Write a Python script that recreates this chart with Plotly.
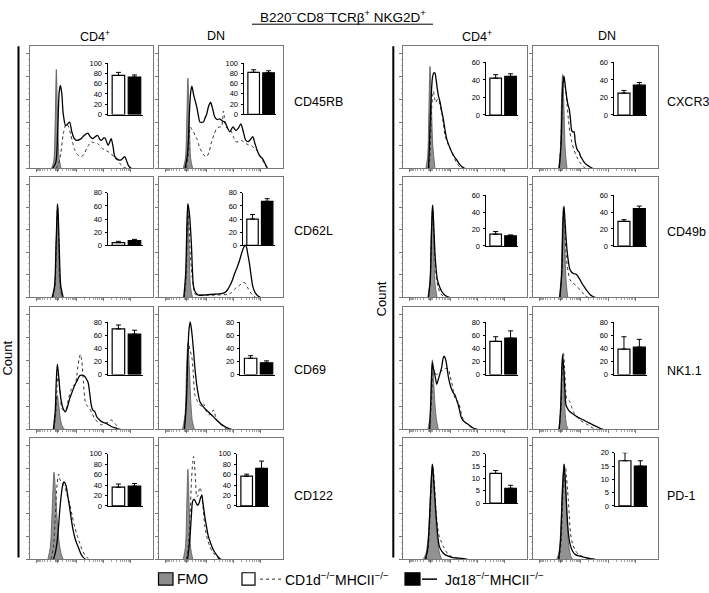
import math
import plotly.graph_objects as go

W, H = 709, 593

# ---------------- text ----------------
TITLE = "B220<sup>–</sup>CD8<sup>–</sup>TCRβ<sup>+</sup> NKG2D<sup>+</sup>"
POPULATIONS = ["CD4<sup>+</sup>", "DN"]
MARKERS_LEFT = ["CD45RB", "CD62L", "CD69", "CD122"]
MARKERS_RIGHT = ["CXCR3", "CD49b", "NK1.1", "PD-1"]
AXIS_TITLE = "Count"
LEGEND_LABELS = ["FMO", "CD1d<sup>−/−</sup>MHCII<sup>−/−</sup>", "Jα18<sup>−/−</sup>MHCII<sup>−/−</sup>"]

# ---------------- inset bar data (% positive), order: CD45RB CD4/DN, CD62L ..., PD-1 DN -------------
CD1D_PCT = [76, 82, 4, 40, 70, 25, 36, 57, 42, 25, 14, 29, 51, 39, 12, 17]
CD1D_ERR = [6, 5, 2, 7, 6, 4, 6, 4, 4, 3, 3, 2, 7, 19, 1.2, 3]
JA18_PCT = [73, 81, 7, 67, 62, 18, 38, 72, 44, 34, 12, 44, 56, 42, 6, 15]
JA18_ERR = [4, 4, 2, 4, 6, 3, 5, 14, 3, 3, 1, 3, 11, 12, 1.2, 2]
TICKS_100 = [0, 20, 40, 60, 80, 100]
TICKS_80 = [0, 20, 40, 60, 80]
TICKS_60 = [0, 20, 40, 60]
TICKS_20 = [0, 5, 10, 15, 20]
INSET_TICKS = [TICKS_100, TICKS_100, TICKS_80, TICKS_80, TICKS_80, TICKS_80, TICKS_100, TICKS_100,
               TICKS_60, TICKS_60, TICKS_60, TICKS_60, TICKS_80, TICKS_80, TICKS_20, TICKS_20]

# ---------------- histogram curves (x: fluorescence scale 0-100, y: count scale 0-100) ----------------
CD45RB_CD4_FMO = [(17.5,0),(19.3,6),(20.4,35),(21.4,81),(22.5,38),(23.7,8),(25.2,0)]
CD45RB_CD4_CD1D = [(21,0),(23,3),(25,12),(27,28),(29.5,36.5),(31.5,34),(33,28),(35,20),(36,16.4),(38,12),(41.7,9.7),(44,12),(47,18),(50,21.8),(52,21),(55,20.4),(58,17),(61,15),(63.5,13.7),(66,12),(69,8.3),(71,7),(72.5,5),(74,3),(76,1),(80,0)]
CD45RB_CD4_JA18 = [(18.5,0),(21,5),(22.5,30),(23.7,62),(24.7,68),(25.8,62),(27,45),(29,35),(31,37),(32.2,38),(34,30),(36,24.5),(38,23),(41,24),(44,27),(47,29),(49,26),(51,24.5),(53,26),(55,27),(57,23.5),(58,23),(60,25),(61,25),(63.5,19),(65,22),(66,24.5),(67.5,18),(69,9.7),(72,7),(74,7),(76,9),(77,9.7),(79,5),(80,2.4),(82.4,0)]

CD45RB_DN_FMO = [(19.5,0),(21.3,8),(22.4,40),(23.3,74),(24.4,38),(25.7,7),(27.2,0)]
CD45RB_DN_CD1D = [(22,0),(23.5,10),(24.5,28),(25.2,34),(26.5,32),(27.9,30),(29,27),(30.5,24.5),(32.5,18),(34.5,13.7),(36.5,10.5),(38.5,9.7),(40.5,14),(42.4,21.8),(44.5,28),(46.4,32.5),(48.5,34),(50.4,34),(51.3,40),(52,47),(52.8,42),(54,34),(56,32),(58,31),(60,26),(62,21.8),(64,22),(66.3,23),(68,22),(70,20.4),(72,19.5),(74,19),(76.5,17),(79.6,13.7),(81.5,10),(83.5,7),(85.5,3),(87.5,0)]
CD45RB_DN_JA18 = [(21,0),(23,12),(24.5,45),(25.5,62),(26.5,67.5),(28,60),(30.5,50),(32,42),(33,38),(35.8,38),(37,41),(38.5,44.6),(40,51),(41.6,54),(43,50),(45,42),(47,40),(49,40.6),(51,39),(53,38),(55,34),(57,30),(59.7,34),(62,31),(64,33),(66,36.5),(68,30),(70,23),(72,22),(74,24),(75.6,26),(77.5,20),(79.6,13.7),(81.5,10),(83.5,8),(85.5,4),(87.5,0)]

CD62L_CD4_FMO = [(18.5,0),(20.1,8),(21.2,40),(22.2,77),(23.2,40),(24.4,8),(26,0)]
CD62L_CD4_CD1D = [(18.5,0),(20.3,9),(21.4,45),(22.4,77),(23.5,45),(24.8,9),(26.5,0)]
CD62L_CD4_JA18 = [(18,0),(20,10),(21.2,45),(22.5,78),(23.7,45),(25,10),(27,0)]

CD62L_DN_FMO = [(20,0),(21.5,9),(22.4,40),(23.3,77),(24.3,40),(25.4,9),(27,0)]
CD62L_DN_CD1D = [(20.5,0),(22,20),(22.7,55),(23.3,74),(24.2,60),(25.3,35),(26.5,20),(27.8,8),(29,2.7),(35,2),(45,2),(55.7,2.7),(58.5,4),(61,7),(63.5,9),(66,11),(68,12.5),(69.5,12),(71.6,8),(73.5,4.5),(75.6,2),(78,0)]
CD62L_DN_JA18 = [(20,0),(21.5,20),(22.5,60),(23.3,78),(24.5,70),(26,47),(27,22),(27.8,9.5),(29.5,4),(31.8,2),(38,2.2),(45,2.7),(50,3.2),(53,4),(55,6),(57,9.5),(59,14),(61,20),(63,25),(65,31),(67,38),(68.4,42),(69.5,43.5),(70.5,42),(71.8,35),(73,28),(74.3,18),(75.6,9.5),(77.5,4),(79.6,1.4),(82,0)]

CD69_CD4_FMO = [(19,0),(20.5,8),(21.3,20),(22.2,28),(23.2,22),(24.5,10),(26,3),(28.2,0)]
CD69_CD4_CD1D = [(19.5,0),(21,15),(22,35),(22.8,45.4),(23.8,38),(24.8,26),(26,17),(27.8,15.5),(29.5,17),(31.5,26),(33.6,33),(35.3,36),(36.9,37),(38,44),(39,52),(40,58),(41,61.5),(42,57),(42.5,52),(43.5,38),(45,22.6),(46.8,19),(48.5,17),(50.5,13),(52.6,9),(55,6),(58,3.8),(60.5,4.5),(63.4,6),(65,7.5),(66,7.8),(68,6),(70,3.8),(72,1),(74,0)]
CD69_CD4_JA18 = [(19,0),(20.5,15),(21.3,38),(22.2,53.5),(23.2,45),(24.3,32),(25.5,22.6),(27,17),(28.7,14.5),(30.3,18),(32.2,25),(34,30),(36.3,36),(38.3,40),(40.4,44),(42.5,44.5),(44.4,43.5),(46,41),(47.2,38.7),(48.5,30),(49.8,20),(51,16),(52.6,14.5),(54.5,10),(56.6,7.8),(59,6),(62,5),(64.8,3.2),(67,2),(70,1),(72,0)]

CD69_DN_FMO = [(19,0),(21,12),(22.2,50),(23.3,71),(24.4,52),(25.8,20),(27,6),(28.6,0)]
CD69_DN_CD1D = [(20.5,0),(22,25),(23,60),(23.9,71),(25,65),(26.5,59),(27.5,48),(29,28),(31,23),(33,20),(35,19),(36,21),(37,18.5),(38.5,14),(41,12),(42.5,13),(43.8,16),(44.8,14),(45.6,10.5),(47.2,7),(49,5),(52,2),(55,0)]
CD69_DN_JA18 = [(20.5,0),(22,20),(23.2,60),(24.2,82),(25.2,88),(26.4,80),(27.8,65),(29,50),(30.5,36),(31.8,28),(33,22.6),(35.8,18.5),(37.5,16.5),(39.8,14.5),(41.8,12.5),(43.8,10.5),(45.7,8.5),(47.7,6.5),(50,4.5),(53,2.4),(56,0.8),(58.5,0)]

CD122_CD4_FMO = [(14.5,0),(16.5,10),(18,40),(19.5,72),(20.8,55),(22.3,30),(24,12),(25.5,4),(27,0)]
CD122_CD4_CD1D = [(17,0),(19,10),(20.5,35),(22,62),(23.3,70.5),(24.3,66),(25.5,64),(26.8,62),(28.2,60),(30.2,53),(32.2,46),(34.3,36),(36.3,27),(38.3,20),(40.4,13.5),(42.4,8),(44.4,4),(46.5,1.5),(48.5,0)]
CD122_CD4_JA18 = [(19,0),(20.5,5),(21.7,12),(22.8,21.7),(24,38),(25.5,54),(26.5,61),(27.6,64),(28.5,63),(29.5,60),(30.8,52),(32.2,43),(33.6,33),(35,24.4),(37,16),(39,10.8),(40.4,7),(41.7,4),(43.5,1.5),(45.5,0)]

CD122_DN_FMO = [(19.5,0),(21.3,10),(22.4,45),(23.3,74.5),(24.3,45),(25.5,10),(27.2,0)]
CD122_DN_CD1D = [(22,0),(23.5,10),(25,35),(26.2,65),(27.2,80),(27.9,85),(28.7,78),(29.6,62),(30.5,51.5),(31.5,53),(32.5,58),(33.2,59.6),(33.9,57),(34.5,54),(35.5,43),(37,27),(39,17),(41,10.8),(43,6.5),(45,4),(47,1.5),(49,0)]
CD122_DN_JA18 = [(23,0),(24.2,10),(25.2,21.7),(26.1,36),(27,47.4),(28,49.5),(29,48.8),(30.2,46),(31.3,44.7),(32.5,47),(33.5,51),(34.5,52.8),(35.5,46),(37,35),(38.5,26),(39.8,19),(41.8,13),(43.8,8),(45.8,4.5),(47.7,2),(50,0)]

CXCR3_CD4_FMO = [(18.5,0),(19.9,10),(20.9,50),(21.8,83.6),(22.8,55),(24.1,18),(25.8,0)]
CXCR3_CD4_CD1D = [(21,0),(22,15),(23.1,48.6),(24,60),(24.5,63.4),(25.4,58),(26.3,54),(27.4,56),(28.5,56.7),(29.8,52),(31.2,46),(32.5,37),(33.9,27),(35.9,21),(37.9,16.4),(40,11.5),(42,7),(44,3.5),(46,1),(48,0)]
CXCR3_CD4_JA18 = [(20.5,0),(21.2,15),(21.8,35),(22.8,60),(23.9,75.5),(25,78.5),(25.8,78),(26.8,72),(27.7,65),(28.7,59),(29.8,55),(31.2,47),(32.5,40.6),(33.8,32),(35.2,24.5),(37.2,18.5),(39.2,13.7),(41.2,10),(43.3,7),(45.3,4),(47.3,1.6),(50,0)]

CXCR3_DN_FMO = [(20.5,0),(21.9,15),(22.8,55),(23.7,77),(24.7,52),(25.8,15),(27.2,0)]
CXCR3_DN_CD1D = [(21,0),(22.5,25),(23.5,65),(24.3,75.5),(25.3,70),(26.4,62),(27.3,52),(28.3,40.6),(29.5,30),(31,21.8),(33,14.5),(35,9.7),(37.5,5),(40.3,1.6),(42,0)]
CXCR3_DN_JA18 = [(21,0),(22.5,20),(23.7,65),(24.8,75.5),(25.8,68),(27,58),(28,52),(29,48.6),(30,40),(31,31),(31.9,30),(32.8,30),(33.8,22),(35,16.4),(35.9,14.5),(36.8,13.7),(38,10),(39,8.3),(41,5),(43,3),(46,1),(48,0)]

CD49B_CD4_FMO = [(20,0),(21.6,12),(22.7,50),(23.7,76),(24.7,50),(25.8,12),(27.4,0)]
CD49B_CD4_CD1D = [(20.5,0),(22,15),(23,55),(23.9,76),(24.8,55),(25.8,31),(27,16),(28.5,8),(30.5,3),(32.5,1),(35,0)]
CD49B_CD4_JA18 = [(20.5,0),(22,15),(23,55),(23.9,77),(24.8,60),(25.8,36.6),(26.7,24),(27.7,14.8),(29.5,9),(31.2,5.2),(33.2,2.5),(35.2,1),(37.5,0)]

CD49B_DN_FMO = [(21,0),(22.4,15),(23.4,55),(24.3,75),(25.3,50),(26.4,15),(27.8,0)]
CD49B_DN_CD1D = [(21.5,0),(23,20),(24,62),(24.5,75),(25.4,60),(26.4,36.6),(28,22),(29.6,14.8),(31.6,12),(33.6,10.7),(35.6,8.5),(37.6,6.6),(39.6,4),(41.6,1.6),(44,0)]
CD49B_DN_JA18 = [(21.5,0),(23,20),(24,62),(24.8,76),(25.8,60),(27,42),(28.3,30),(29.6,23),(31,21),(32.3,20),(35,19),(36.3,17),(37.6,14.8),(39.6,11),(41.6,8),(43.6,5),(45.6,2.5),(48,0.8),(50,0)]

NK11_CD4_FMO = [(20,0),(21.8,10),(22.8,40),(23.7,57),(24.6,42),(25.8,20),(27,8),(28.5,0)]
NK11_CD4_CD1D = [(21.5,0),(22.8,20),(23.8,40),(24.5,47),(25.8,46),(27.2,45),(28.5,46),(29.8,47),(31.2,48),(32.5,49.5),(34.5,50),(36.6,49.5),(37.9,44),(39.2,38.7),(40.6,32),(42,25),(43.3,23.5),(44.6,22.6),(46.6,15),(48.7,7.8),(51.3,4.5),(54,2.4),(57,0.8),(60,0)]
NK11_CD4_JA18 = [(21.5,0),(22.5,25),(23.2,48),(23.7,55),(24.5,50),(25.3,47),(26.2,42),(27.2,37),(28.2,40),(29.3,44),(30.2,47),(31.2,51),(32.1,57),(33,60),(33.8,59),(34.7,56),(35.6,50),(36.6,43),(37.9,37),(39.2,33),(40.6,30),(42,28),(43.3,24),(44.6,20),(46,14),(47.3,9),(49.3,6.5),(51.3,5),(53.4,3.5),(55.4,2),(58,0.5),(60,0)]

NK11_DN_FMO = [(20.5,0),(22,12),(22.9,45),(23.7,62),(24.6,45),(25.6,15),(27,3),(28.3,0)]
NK11_DN_CD1D = [(21,0),(22.5,20),(23.5,52),(24.3,63),(25.2,52),(26.2,32),(27,25),(28.3,24),(29.6,22.6),(31,18),(32.3,14.5),(35,11),(37.6,7.8),(40.3,5.8),(43,4.3),(45.6,2.5),(48.3,1),(52,0)]
NK11_DN_JA18 = [(21,0),(22.2,20),(23,48),(23.7,60),(24.6,50),(25.5,33),(26.4,20),(28,16.5),(29.6,14.5),(32.3,12.5),(35,10.5),(37.6,9),(40.3,7.8),(43,6.3),(45.6,5),(48.2,3.6),(50.9,2.4),(53.5,1),(56,0)]

PD1_CD4_FMO = [(16.4,0),(18.5,5),(20.5,20),(22,50),(23.7,78.6),(25,60),(26.5,32),(28,14),(29.5,5),(31.2,0)]
PD1_CD4_CD1D = [(18.5,0),(20.2,8),(21.6,30),(23,62),(24.2,77),(25.4,62),(26.6,40),(28,26),(29.3,19),(30.8,15),(32.5,10.8),(34.5,7),(36.6,4),(39,2.5),(43,1.5),(48,0.8),(52,0)]
PD1_CD4_JA18 = [(18,0),(19.8,8),(21.2,30),(22.5,60),(23.7,78.6),(25,62),(26.6,38),(28,20),(29.3,10.8),(31.5,6.5),(33.9,4),(37,2.5),(40,1.5),(45,1),(50,0.5),(52,0)]

PD1_DN_FMO = [(19,0),(20.8,6),(22.2,25),(23.5,60),(24.8,78.6),(26,60),(27.3,30),(28.8,10),(30.5,2),(32,0)]
PD1_DN_CD1D = [(21,0),(22.5,15),(24,55),(25.3,76),(25.9,77),(26.8,68),(27.6,58),(28.3,48.8),(29.1,35),(30,21.7),(31.6,13),(33.6,8),(36,4.5),(38.6,3),(42,1.5),(47,0.5),(50,0)]
PD1_DN_JA18 = [(20.5,0),(22,15),(23.5,55),(24.9,78.6),(26.2,58),(27.2,38),(28.3,21.7),(29.8,12),(31.7,6.8),(34,4),(37.6,2.7),(42,1.5),(47,0.5),(50,0)]

HISTOGRAMS = [
    (CD45RB_CD4_FMO, CD45RB_CD4_CD1D, CD45RB_CD4_JA18), (CD45RB_DN_FMO, CD45RB_DN_CD1D, CD45RB_DN_JA18),
    (CD62L_CD4_FMO, CD62L_CD4_CD1D, CD62L_CD4_JA18), (CD62L_DN_FMO, CD62L_DN_CD1D, CD62L_DN_JA18),
    (CD69_CD4_FMO, CD69_CD4_CD1D, CD69_CD4_JA18), (CD69_DN_FMO, CD69_DN_CD1D, CD69_DN_JA18),
    (CD122_CD4_FMO, CD122_CD4_CD1D, CD122_CD4_JA18), (CD122_DN_FMO, CD122_DN_CD1D, CD122_DN_JA18),
    (CXCR3_CD4_FMO, CXCR3_CD4_CD1D, CXCR3_CD4_JA18), (CXCR3_DN_FMO, CXCR3_DN_CD1D, CXCR3_DN_JA18),
    (CD49B_CD4_FMO, CD49B_CD4_CD1D, CD49B_CD4_JA18), (CD49B_DN_FMO, CD49B_DN_CD1D, CD49B_DN_JA18),
    (NK11_CD4_FMO, NK11_CD4_CD1D, NK11_CD4_JA18), (NK11_DN_FMO, NK11_DN_CD1D, NK11_DN_JA18),
    (PD1_CD4_FMO, PD1_CD4_CD1D, PD1_CD4_JA18), (PD1_DN_FMO, PD1_DN_CD1D, PD1_DN_JA18),
]

# ---------------- layout geometry (pixels) ----------------
COLS = [(30, 153), (159, 283), (403, 527), (533, 658)]
ROWS = [(43, 167), (176, 298), (308, 432), (441, 564)]
INSET_BOXES = [
    (108, 142.5, 60, 112.3), (244, 276, 60, 112),
    (108, 142.5, 191.7, 245), (243, 274.5, 191.7, 245),
    (108, 142.5, 323.3, 376.3), (240.3, 274.5, 323.3, 376.3),
    (108, 142.5, 456.7, 509.7), (237, 269, 456.7, 509.7),
    (486, 518, 59.3, 112.7), (614, 647, 59.3, 112.7),
    (486, 518, 194, 245.7), (614, 647, 194, 245.7),
    (486, 518, 323.3, 376.3), (614, 647, 323.3, 376.3),
    (486, 518, 456.7, 506.7), (615, 648, 455.7, 509.7),
]
ROW_LABEL_Y_LEFT = [100, 231, 372, 500]
ROW_LABEL_Y_RIGHT = [100, 232, 373, 500]

def fx(px):
    return px / W

def fy(py):
    return 1 - py / H

# tick styling of the flow axes
Y_MAJOR = [0, 18.8, 37.6, 56.4, 75.2, 94]
Y_MINOR = [v + d for v in Y_MAJOR[:-1] for d in (4.7, 9.4, 14.1)]
X_MAJOR = [5, 22, 38, 60, 82]
X_MINOR = ([22 - 17 * math.log10(k) for k in range(2, 10)] +
           [20.6, 21.1, 21.6, 22.4, 22.9, 23.4] +
           [22 + 16 * math.log10(k) for k in range(2, 10)] +
           [38 + 22 * math.log10(k) for k in range(2, 10)] +
           [60 + 22 * math.log10(k) for k in range(2, 10)])

FONT = "Liberation Sans, Arial, Helvetica, sans-serif"

fig = go.Figure()
layout = dict(width=W, height=H, margin=dict(l=0, r=0, t=0, b=0),
              paper_bgcolor="white", plot_bgcolor="rgba(0,0,0,0)", showlegend=False,
              font=dict(family=FONT, color="black"))

def ax_names(n):
    s = "" if n == 1 else str(n)
    return "xaxis" + s, "yaxis" + s, "x" + s, "y" + s

for k in range(16):
    col = (k % 2) + (2 if k >= 8 else 0)
    row = (k // 2) % 4
    x0, x1 = COLS[col]
    y0, y1 = ROWS[row]
    xa, ya, xr, yr = ax_names(k + 1)
    layout[xa] = dict(domain=[fx(x0), fx(x1)], range=[0, 100], anchor=yr, showgrid=False, zeroline=False,
                      showline=True, mirror=True, linecolor="#777", linewidth=1,
                      ticks="outside", tickvals=X_MAJOR, ticklen=3, tickwidth=0.8, tickcolor="#555",
                      showticklabels=False,
                      minor=dict(tickvals=X_MINOR, ticks="outside", ticklen=1.6, tickwidth=0.6, tickcolor="#666"))
    layout[ya] = dict(domain=[fy(y1), fy(y0)], range=[0, 100], anchor=xr, showgrid=False, zeroline=False,
                      showline=True, mirror=True, linecolor="#777", linewidth=1,
                      ticks="outside", tickvals=Y_MAJOR, ticklen=3, tickwidth=0.8, tickcolor="#555",
                      showticklabels=False,
                      minor=dict(tickvals=Y_MINOR, ticks="outside", ticklen=1.5, tickwidth=0.6, tickcolor="#888"))
    fmo, cd1d, ja18 = HISTOGRAMS[k]
    fig.add_trace(go.Scatter(x=[p[0] for p in fmo], y=[p[1] for p in fmo], mode="lines",
                             line=dict(color="#555", width=0.8, shape="spline", smoothing=0.8),
                             fill="tozeroy", fillcolor="#929292", xaxis=xr, yaxis=yr, hoverinfo="skip"))
    fig.add_trace(go.Scatter(x=[p[0] for p in cd1d], y=[p[1] for p in cd1d], mode="lines",
                             line=dict(color="#333", width=1, dash="dot", shape="spline", smoothing=0.8),
                             xaxis=xr, yaxis=yr, hoverinfo="skip"))
    fig.add_trace(go.Scatter(x=[p[0] for p in ja18], y=[p[1] for p in ja18], mode="lines",
                             line=dict(color="black", width=1.3, shape="spline", smoothing=0.8),
                             xaxis=xr, yaxis=yr, hoverinfo="skip"))

    # inset bar chart
    ix0, ix1, iy0, iy1 = INSET_BOXES[k]
    xa2, ya2, xr2, yr2 = ax_names(k + 17)
    ticks = INSET_TICKS[k]
    layout[xa2] = dict(domain=[fx(ix0), fx(ix1)], range=[-0.65, 1.5], anchor=yr2, showgrid=False,
                       zeroline=False, showline=True, linecolor="black", linewidth=1,
                       showticklabels=False, ticks="")
    layout[ya2] = dict(domain=[fy(iy1), fy(iy0)], range=[0, ticks[-1]], anchor=xr2, showgrid=False,
                       zeroline=False, showline=True, linecolor="black", linewidth=1,
                       ticks="outside", tickvals=ticks, ticklen=2.5, tickwidth=1, tickcolor="black",
                       tickfont=dict(size=7.5, family=FONT, color="black"), ticklabelstandoff=1)
    fig.add_trace(go.Bar(x=[0, 1], y=[CD1D_PCT[k], JA18_PCT[k]], width=0.78,
                         marker=dict(color=["white", "black"], line=dict(color="black", width=1.2)),
                         error_y=dict(type="data", symmetric=False, array=[CD1D_ERR[k], JA18_ERR[k]],
                                      arrayminus=[0, 0], color="black", thickness=1, width=2.5),
                         xaxis=xr2, yaxis=yr2, hoverinfo="skip"))

annotations = []
shapes = []

def text(x, y, s, size, xanchor="center", angle=0):
    annotations.append(dict(x=fx(x), y=fy(y), xref="paper", yref="paper", text=s, showarrow=False,
                            xanchor=xanchor, yanchor="middle", textangle=angle, borderpad=0,
                            font=dict(size=size, family=FONT, color="black")))

# title with underline
text(342.5, 12, TITLE, 13.5)
shapes.append(dict(type="line", xref="paper", yref="paper", x0=fx(252), x1=fx(433), y0=fy(20.5), y1=fy(20.5),
                   line=dict(color="black", width=1)))

# column headers
for cx, lab in zip([95, 216, 477, 607], POPULATIONS * 2):
    text(cx, 33, lab, 12.5)

# row labels
for ly, lab in zip(ROW_LABEL_Y_LEFT, MARKERS_LEFT):
    text(293, ly, lab, 12.5, xanchor="left")
for ly, lab in zip(ROW_LABEL_Y_RIGHT, MARKERS_RIGHT):
    text(666, ly, lab, 12.5, xanchor="left")

# "Count" axis labels with vertical bars
text(8, 360, AXIS_TITLE, 13, angle=-90)
text(381, 300, AXIS_TITLE, 13, angle=-90)
for lx in (18.5, 393.3):
    shapes.append(dict(type="line", xref="paper", yref="paper", x0=fx(lx), x1=fx(lx), y0=fy(43), y1=fy(562),
                       line=dict(color="black", width=2)))

# legend
shapes.append(dict(type="rect", xref="paper", yref="paper", x0=fx(158.5), x1=fx(173), y0=fy(590), y1=fy(577.5),
                   fillcolor="#8c8c8c", line=dict(color="black", width=1.2)))
text(176, 584, LEGEND_LABELS[0], 14, xanchor="left")
shapes.append(dict(type="rect", xref="paper", yref="paper", x0=fx(242), x1=fx(255), y0=fy(590), y1=fy(577.5),
                   fillcolor="white", line=dict(color="black", width=1.2)))
shapes.append(dict(type="line", xref="paper", yref="paper", x0=fx(260), x1=fx(281), y0=fy(584), y1=fy(584),
                   line=dict(color="#333", width=1, dash="dot")))
text(284, 584, LEGEND_LABELS[1], 14, xanchor="left")
shapes.append(dict(type="rect", xref="paper", yref="paper", x0=fx(405), x1=fx(420), y0=fy(590), y1=fy(577.5),
                   fillcolor="black", line=dict(color="black", width=1.2)))
shapes.append(dict(type="line", xref="paper", yref="paper", x0=fx(422), x1=fx(437), y0=fy(584), y1=fy(584),
                   line=dict(color="black", width=1.5)))
text(444, 584, LEGEND_LABELS[2], 14, xanchor="left")

layout["annotations"] = annotations
layout["shapes"] = shapes
fig.update_layout(**layout)
fig.write_html("out.html", config={"displayModeBar": False, "staticPlot": True},
               post_script="document.body.style.margin='0';document.body.style.overflow='hidden';")
